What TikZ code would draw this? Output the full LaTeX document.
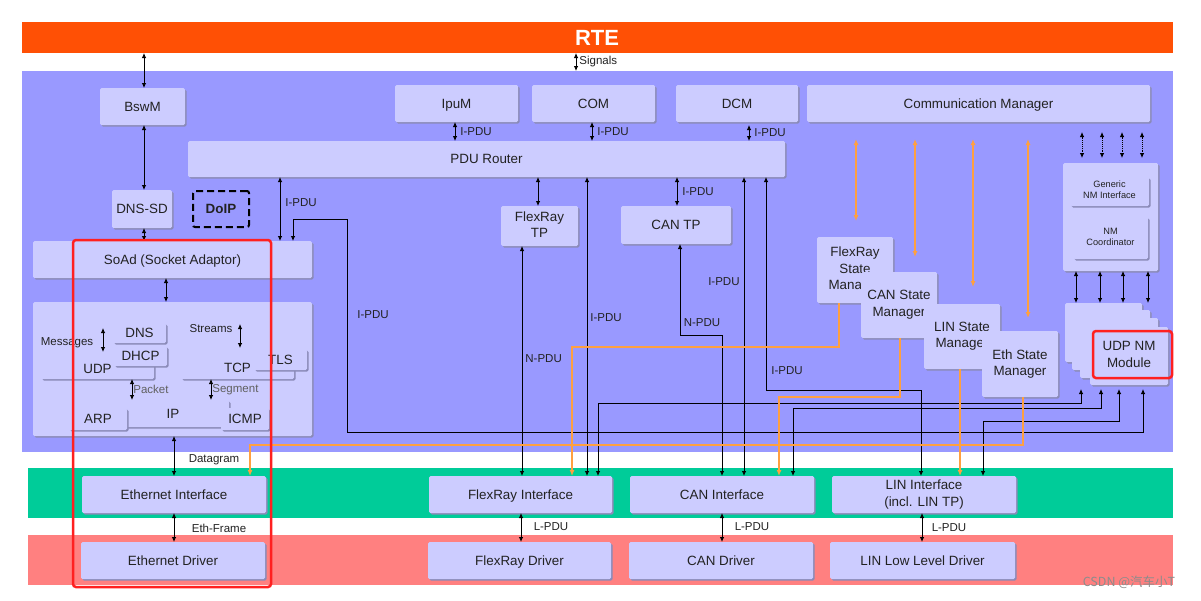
\documentclass[tikz,border=0pt]{standalone}
\usepackage{fontspec}
\setmainfont{Liberation Sans}
\newfontfamily\cjkfont{Noto Sans CJK SC}
\usetikzlibrary{arrows.meta,shadows,calc}
\definecolor{rtec}{HTML}{FF5005}
\definecolor{bluec}{HTML}{9999FF}
\definecolor{greenc}{HTML}{00CC99}
\definecolor{redc}{HTML}{FF8080}
\definecolor{boxc}{HTML}{CCCCFF}
\definecolor{shadc}{HTML}{8A8AB8}
\definecolor{txtc}{HTML}{222222}
\definecolor{orc}{HTML}{FFA040}
\definecolor{hlred}{HTML}{FF2020}
\definecolor{grayt}{HTML}{606060}
\newcommand\fsA{\fontsize{13.4}{16.5}\selectfont}
\newcommand\fsL{\fontsize{11.5}{13.5}\selectfont}
\newcommand\fsS{\fontsize{9.2}{10.8}\selectfont}
\newcommand\bx[7][]{\node[box,#1,minimum width={(#5)-(#3)},minimum height={(#6)-(#4)}] (#2) at ({((#3)+(#5))/2},{((#4)+(#6))/2}) {#7};}
\begin{document}
\begin{tikzpicture}[x=1pt,y=-1pt,
  box/.style={fill=boxc, rounded corners=1.5pt, inner sep=1pt, outer sep=0pt, text=txtc, font=\fsA, align=center,
    execute at begin node={\rule[-3pt]{0pt}{15.6pt}},
    drop shadow={shadow xshift=1.5pt,shadow yshift=-1.5pt,fill=shadc,opacity=1}},
  ml/.style={execute at begin node={}},
  bar/.style={inner sep=0pt, outer sep=0pt, anchor=north west},
  con/.style={draw=black, line width=0.85pt},
  dar/.style={con, {Latex[length=5pt,width=4.5pt]}-{Latex[length=5pt,width=4.5pt]}},
  odar/.style={draw=orc, line width=1.25pt, {Latex[length=6pt,width=5pt]}-{Latex[length=6pt,width=5pt]}},
  oar/.style={draw=orc, line width=1.25pt, -{Latex[length=6pt,width=5pt]}},
  lbl/.style={font=\fsL, text=txtc, inner sep=1pt},
  glbl/.style={font=\fsL, text=grayt, inner sep=1pt},
  hl/.style={draw=hlred, line width=2.5pt, rounded corners=3pt, inner sep=0pt, outer sep=0pt}
]
\useasboundingbox (0,0) rectangle (1201,600);
\fill[white] (0,0) rectangle (1201,600);
% layers
\node[bar, fill=rtec, minimum width=1151, minimum height=31] (rte) at (22,22) {};
\node[text=white, font=\bfseries\fontsize{22}{24}\selectfont] (rtet) at (597,38) {RTE};
\node[bar, fill=bluec, minimum width=1151, minimum height=381] (bsw) at (22,71) {};
\node[bar, fill=greenc, minimum width=1145, minimum height=50] (ecu) at (28,468) {};
\node[bar, fill=redc, minimum width=1145, minimum height=50] (mcal) at (28,535) {};
% boxes
\bx{bswm}{100}{88}{185}{125}{BswM}
\bx{dnssd}{112}{190}{172}{228}{DNS-SD}
\node[draw=black, dash pattern=on 7pt off 4pt, line width=2pt, rounded corners=2pt, minimum width=56, minimum height=36, inner sep=0pt, outer sep=0pt, font=\bfseries\fsA, text=txtc] (doip) at (221,209) {DoIP};
\bx{ipum}{395}{85}{518}{122}{IpuM}
\bx{com}{532}{85}{655}{122}{COM}
\bx{dcm}{676}{85}{798}{122}{DCM}
\bx{cm}{807}{85}{1150}{122}{Communication Manager}
\bx{pdur}{188}{141}{785}{177}{PDU Router}
\bx[ml]{frtp}{501}{206}{578}{246}{FlexRay\\TP}
\bx{cantp}{621}{206}{731}{244}{CAN TP}
\bx{soad}{33}{241}{312}{278}{SoAd (Socket Adaptor)}
\bx[ml]{tcpip}{33}{302}{312}{436}{}
\bx{udp}{41}{359}{154}{379}{UDP}
\bx{dns}{113}{323}{166}{343}{DNS}
\bx{dhcp}{114}{346}{167}{366}{DHCP}
\bx{tcp}{181}{357}{294}{379}{TCP}
\bx{tls}{254}{349}{307}{370}{TLS}
\bx{ip}{117}{400}{229}{427}{IP}
\bx{arp}{69}{408}{127}{430}{ARP}
\bx{icmp}{221}{408}{269}{430}{ICMP}
\node[lbl] (msg) at (67,343) {Messages};
\node[lbl] (str) at (211,329) {Streams};
\coordinate (m1) at (103,328);
\coordinate (m2) at (103,352);
\coordinate (s1) at (240,324);
\coordinate (s2) at (240,348);
\draw[dar] (m1) -- (m2);
\draw[dar] (s1) -- (s2);
\draw[dar] (udp.south -| 132,0) -- (ip.north -| 132,0) node[glbl, midway, right] {Packet};
\draw[dar] (tcp.south -| 211,0) -- (ip.north -| 211,0) node[glbl, midway, right] {Segment};
% bus interfaces and drivers
\bx{ethif}{82}{476}{266}{513}{Ethernet Interface}
\bx{frif}{429}{476}{612}{513}{FlexRay Interface}
\bx{canif}{630}{476}{814}{513}{CAN Interface}
\bx[ml]{linif}{832}{476}{1016}{513}{LIN Interface\\(incl. LIN TP)}
\bx{ethdrv}{81}{542}{265}{579}{Ethernet Driver}
\bx{frdrv}{428}{542}{611}{579}{FlexRay Driver}
\bx{candrv}{629}{542}{813}{579}{CAN Driver}
\bx{lindrv}{830}{542}{1015}{579}{LIN Low Level Driver}
% state managers
\bx[ml]{frsm}{817}{237}{893}{303}{FlexRay\\State\\Manager}
\bx[ml]{cansm}{861}{272}{937}{338}{CAN State\\Manager}
\bx[ml]{linsm}{924}{304}{1000}{369}{LIN State\\Manager}
\bx[ml]{ethsm}{982}{331}{1058}{397}{Eth State\\Manager}
% NM
\bx[ml]{nm}{1063}{163}{1158}{271}{}
\bx[ml,font=\fsS]{gnmi}{1070}{177}{1149}{206}{Generic\\NM Interface}
\bx[ml,font=\fsS]{nmc}{1073}{217}{1148}{259}{NM\\Coordinator}
\bx[ml]{nm1}{1065}{303}{1142}{362}{}
\bx[ml]{nm2}{1072}{310}{1150}{370}{}
\bx[ml]{nm3}{1080}{318}{1158}{378}{}
\bx[ml]{nm4}{1090}{327}{1168}{385}{UDP NM\\Module}
% connectors upper part
\draw[dar] (rte.south -| 144,0) -- (bswm.north -| 144,0);
\draw[dar] (rte.south -| 576,0) -- (bsw.north -| 576,0) node[lbl, midway, right=2pt] {Signals};
\draw[dar] (bswm.south -| 144,0) -- (dnssd.north -| 144,0);
\draw[dar] (dnssd.south -| 144,0) -- (soad.north -| 144,0);
\draw[dar] (ipum.south -| 455,0) -- (pdur.north -| 455,0) node[lbl, midway, right=4pt] {I-PDU};
\draw[dar] (com.south -| 592,0) -- (pdur.north -| 592,0) node[lbl, midway, right=4pt] {I-PDU};
\draw[dar] ($(dcm.south -| 749,0)+(0,3)$) -- (pdur.north -| 749,0) node[lbl, midway, right=4pt] {I-PDU};
\draw[dar] (pdur.south -| 280,0) -- (soad.north -| 280,0) node[lbl, pos=0.4, right=4pt] {I-PDU};
\draw[dar] (pdur.south -| 538,0) -- (frtp.north -| 538,0);
\draw[dar] (pdur.south -| 677,0) -- (cantp.north -| 677,0) node[lbl, midway, right=4pt] {I-PDU};
\draw[dar] (pdur.south -| 587,0) -- (frif.north -| 587,0) node[lbl, pos=0.47, right=2pt] {I-PDU};
\draw[dar] (pdur.south -| 744,0) -- (canif.north -| 744,0) node[lbl, pos=0.35, left=3pt] {I-PDU};
\draw[dar] (pdur.south -| 766,0) |- (921,390) -- (linif.north -| 921,0);
\node[lbl] (lip1) at (787,371) {I-PDU};
\draw[dar] (soad.north -| 293,0) |- (347,219) |- (1143,432) -- ($(nm4.south -| 1143,0)+(0,4)$);
\node[lbl] (lip2) at (373,315) {I-PDU};
\draw[dar] (frtp.south -| 522,0) -- (frif.north -| 522,0) node[lbl, pos=0.49, right=2pt] {N-PDU};
\draw[dar] (cantp.south -| 680,0) |- (722,335) -- (canif.north -| 722,0);
\node[lbl] (lnp) at (702,323) {N-PDU};
\draw[dar] (soad.south -| 166,0) -- (tcpip.north -| 166,0);
\draw[dar] (tcpip.south -| 174,0) -- (ethif.north -| 174,0);
\node[lbl] (ldg) at (214,460) {Datagram};
\draw[dar] (ethif.south -| 174,0) -- (ethdrv.north -| 174,0);
\node[lbl] (lef) at (219,528) {Eth-Frame};
\draw[dar] (frif.south -| 521,0) -- (frdrv.north -| 521,0);
\node[lbl] (llp1) at (551,527) {L-PDU};
\draw[dar] (canif.south -| 722,0) -- (candrv.north -| 722,0);
\node[lbl] (llp2) at (752,527) {L-PDU};
\draw[dar] (linif.south -| 922,0) -- (lindrv.north -| 922,0);
\node[lbl] (llp3) at (949,528) {L-PDU};
% NM connectors
\foreach \x in {1076,1100,1123,1148} \draw[dar] (nm.south -| \x,0) -- (nm1.north -| \x,0);
\foreach \x in {1082,1102,1122,1142} \draw[dar, densely dotted] ($(cm.south -| \x,0)+(0,10)$) -- ($(nm.north -| \x,0)+(0,-5)$);
\draw[dar] (frif.north -| 598,0) |- (1081,403) -- ($(nm4.south -| 1081,0)+(0,4)$);
\draw[dar] (canif.north -| 793,0) |- (1101,408) -- ($(nm4.south -| 1101,0)+(0,4)$);
\draw[dar] (linif.north -| 983,0) |- (1119,421) -- ($(nm4.south -| 1119,0)+(0,4)$);
% orange
\draw[odar] ($(cm.south -| 856,0)+(0,17)$) -- ($(frsm.north -| 856,0)+(0,-16)$);
\draw[odar] ($(cm.south -| 915,0)+(0,17)$) -- ($(cansm.north -| 915,0)+(0,-15)$);
\draw[odar] ($(cm.south -| 973,0)+(0,17)$) -- ($(linsm.north -| 973,0)+(0,-17)$);
\draw[odar] ($(cm.south -| 1028,0)+(0,17)$) -- ($(ethsm.north -| 1028,0)+(0,-13)$);
\draw[oar] (frsm.south -| 839,0) |- (572,347) -- (frif.north -| 572,0);
\draw[oar] (cansm.south -| 900,0) |- (779,397) -- (canif.north -| 779,0);
\draw[oar] (linsm.south -| 960,0) -- (linif.north -| 960,0);
\draw[oar] (ethsm.south -| 1023,0) |- (250,445) -- (ethif.north -| 250,0);
% highlights
\node[hl, minimum width=198, minimum height=347] (hl1) at (172,413.5) {};
\node[hl, minimum width=79, minimum height=47] (hl2) at (1132.5,354.5) {};
% watermark
\node[text=black!45, font=\cjkfont\fontsize{12.5}{14}\selectfont, inner sep=0pt] (wm) at (1129,582) {CSDN @汽车小T};
\end{tikzpicture}
\end{document}
